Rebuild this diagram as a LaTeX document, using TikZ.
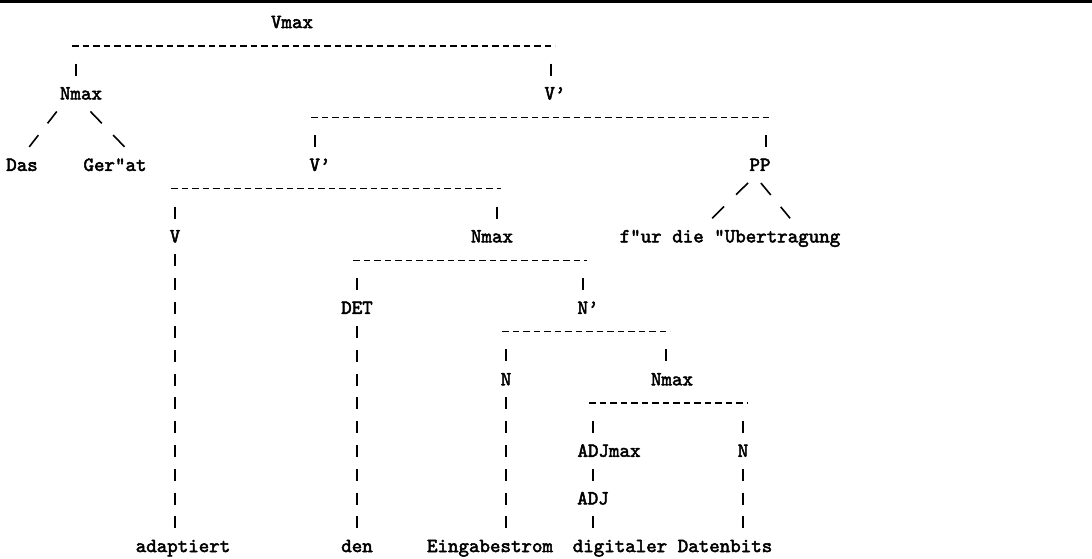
\documentclass[tikz,border=0pt]{standalone}
\usepackage{fontspec}
\newfontfamily\ttlabfont{lmmono10-regular.otf}[FakeBold=2.5, Ligatures=TeX]
\newcommand{\ttlab}{\ttlabfont\fontsize{20}{20}\selectfont}

\begin{document}
\begin{tikzpicture}[x=1pt, y=-23.82pt,
    lab/.style={font=\ttlab, inner sep=0pt, text height=12pt, text depth=0pt},
    dashrow/.style={line width=1.4pt, dash pattern=on 6.5pt off 4pt,
                    shorten <=-4pt, shorten >=-4pt},
    barcol/.style={line width=1.8pt, dash pattern=on 12pt off 11.82pt, dash phase=12pt},
    slash/.style={line width=1.6pt, dash pattern=on #1 off #1,
                  shorten <=#1, shorten >=#1}
]
    \useasboundingbox (0,0.0764) rectangle (1092,23.544);
    \draw[line width=3pt] (0,0.16) -- (1092,0.16);

    % labels
    \node[lab] (vmax) at (292,1) {Vmax};
    \node[lab] (nmaxa) at (81,4) {Nmax};
    \node[lab] (vbara) at (555,4) {V'};
    \node[lab] (das) at (22,7) {Das};
    \node[lab] (gerat) at (115,7) {Ger"at};
    \node[lab] (vbarb) at (320,7) {V'};
    \node[lab] (pp) at (760,7) {PP};
    \node[lab] (v) at (175,10) {V};
    \node[lab] (nmaxb) at (492,10) {Nmax};
    \node[lab] (fur) at (730,10) {f"ur die "Ubertragung};
    \node[lab] (det) at (357,13) {DET};
    \node[lab] (nbar) at (588,13) {N'};
    \node[lab] (n) at (506,16) {N};
    \node[lab] (nmaxc) at (672,16) {Nmax};
    \node[lab] (adjmax) at (609,19) {ADJmax};
    \node[lab] (nn) at (743,19) {N};
    \node[lab] (adj) at (593,21) {ADJ};
    \node[lab] (adaptiert) at (183,23) {adaptiert};
    \node[lab] (den) at (357,23) {den};
    \node[lab] (eingabe) at (490,23) {Eingabestrom};
    \node[lab] (digitaler) at (620,23) {digitaler};
    \node[lab] (datenbits) at (725,23) {Datenbits};

    % dashed rows
    \coordinate (h1w) at (76,2);  \coordinate (h1e) at (551,2);
    \coordinate (h2w) at (315,5); \coordinate (h2e) at (766,5);
    \coordinate (h3w) at (175,8); \coordinate (h3e) at (497,8);
    \coordinate (h4w) at (357,11); \coordinate (h4e) at (583,11);
    \coordinate (h5w) at (506,14); \coordinate (h5e) at (666,14);
    \coordinate (h6w) at (593,17); \coordinate (h6e) at (743,17);
    \foreach \h in {1,...,6}
        \draw[dashrow] (h\h w) -- (h\h e);

    % bars down from the rows
    \draw[barcol, shorten <=6pt] (h1w) -- (h1w |- nmaxa.north);
    \draw[barcol, shorten <=6pt] (h1e) -- (h1e |- vbara.north);
    \draw[barcol, shorten <=6pt] (h2w) -- (h2w |- vbarb.north);
    \draw[barcol, shorten <=6pt] (h2e) -- (h2e |- pp.north);
    \draw[barcol, shorten <=6pt] (h3w) -- (h3w |- v.north);
    \draw[barcol, shorten <=6pt] (h3e) -- (h3e |- nmaxb.north);
    \draw[barcol, shorten <=6pt] (h4w) -- (h4w |- det.north);
    \draw[barcol, shorten <=6pt] (h4e) -- (h4e |- nbar.north);
    \draw[barcol, shorten <=6pt] (h5w) -- (h5w |- n.north);
    \draw[barcol, shorten <=6pt] (h5e) -- (h5e |- nmaxc.north);
    \draw[barcol, shorten <=6pt] (h6w) -- (h6w |- adjmax.north);
    \draw[barcol, shorten <=6pt] (h6e) -- (h6e |- nn.north);

    % bars down to the words
    \draw[barcol] (v.south) -- (v.south |- adaptiert.north);
    \draw[barcol] (det.south) -- (det.south |- den.north);
    \draw[barcol] (n.south) -- (n.south |- eingabe.north);
    \draw[barcol] (adj.north |- adjmax.south) -- (adj.north);
    \draw[barcol] (adj.south) -- (adj.south |- digitaler.north);
    \draw[barcol] (nn.south) -- (nn.south |- datenbits.north);

    % slashes
    \draw[slash=15pt] ([xshift=-15pt]nmaxa.south) -- ([xshift=-2pt]das.north);
    \draw[slash=16.4pt] ([xshift=-2pt]nmaxa.south) -- ([xshift=21pt]gerat.north);
    \draw[slash=16.8pt] (pp.south) -- ([xshift=-30pt]fur.north);
    \draw[slash=15.5pt] ([xshift=-9pt]pp.south) -- ([xshift=70pt]fur.north);
\end{tikzpicture}
\end{document}
